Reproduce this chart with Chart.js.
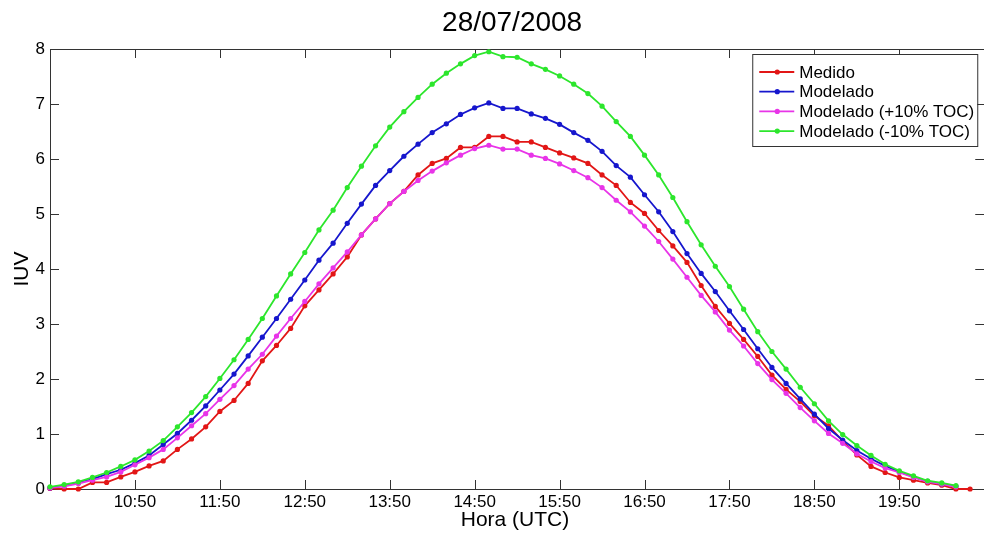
<!DOCTYPE html>
<html>
<head>
<meta charset="utf-8">
<script src="https://cdn.jsdelivr.net/npm/chart.js@4.4.1/dist/chart.umd.min.js"></script>
<style>
  html, body { margin: 0; padding: 0; background: #fff; overflow: hidden; }
</style>
</head>
<body>
<canvas id="myChart" width="984" height="534"></canvas>
<script>
// horas (UTC), cada 10 minutos
const horas = [
  "09:50","10:00","10:10","10:20","10:30","10:40",
  "10:50","11:00","11:10","11:20","11:30","11:40",
  "11:50","12:00","12:10","12:20","12:30","12:40",
  "12:50","13:00","13:10","13:20","13:30","13:40",
  "13:50","14:00","14:10","14:20","14:30","14:40",
  "14:50","15:00","15:10","15:20","15:30","15:40",
  "15:50","16:00","16:10","16:20","16:30","16:40",
  "16:50","17:00","17:10","17:20","17:30","17:40",
  "17:50","18:00","18:10","18:20","18:30","18:40",
  "18:50","19:00","19:10","19:20","19:30","19:40",
  "19:50","20:00","20:10","20:20","20:30","20:40"
];

const medido = [0.01,0.00,0.00,0.12,0.12,0.22, 0.31,0.42,0.51,0.72,0.91,1.13,
  1.41,1.61,1.92,2.33,2.61,2.92, 3.33,3.62,3.91,4.22,4.62,4.91,
  5.19,5.41,5.71,5.92,6.01,6.21, 6.21,6.41,6.41,6.31,6.31,6.21,
  6.11,6.02,5.92,5.71,5.52,5.21, 5.01,4.70,4.42,4.12,3.70,3.32,
  3.01,2.72,2.41,2.07,1.81,1.59, 1.33,1.15,0.87,0.62,0.41,0.30,
  0.21,0.16,0.11,0.07,0.00,0.00];

const modelado = [0.02,0.06,0.11,0.18,0.27,0.35, 0.47,0.61,0.81,1.01,1.25,1.51,
  1.80,2.09,2.42,2.76,3.10,3.45, 3.80,4.16,4.47,4.83,5.18,5.52,
  5.79,6.05,6.27,6.48,6.64,6.81, 6.93,7.02,6.92,6.92,6.82,6.74,
  6.63,6.48,6.34,6.14,5.88,5.67, 5.35,5.04,4.68,4.28,3.92,3.59,
  3.24,2.90,2.55,2.21,1.92,1.64, 1.36,1.10,0.89,0.70,0.55,0.42,
  0.31,0.22,0.14,0.09,0.05];

const modeladoMas = [0.02,0.05,0.10,0.16,0.22,0.31, 0.44,0.57,0.72,0.93,1.15,1.37,
  1.63,1.88,2.18,2.45,2.78,3.10, 3.41,3.73,4.02,4.31,4.62,4.91,
  5.19,5.41,5.61,5.78,5.93,6.07, 6.19,6.25,6.18,6.18,6.07,6.01,
  5.91,5.79,5.66,5.48,5.25,5.04, 4.78,4.50,4.18,3.85,3.52,3.22,
  2.89,2.60,2.28,1.99,1.74,1.48, 1.24,1.01,0.83,0.64,0.50,0.38,
  0.30,0.21,0.13,0.09,0.04];

const modeladoMenos = [0.04,0.08,0.13,0.21,0.30,0.41, 0.53,0.69,0.88,1.13,1.39,1.68,
  2.01,2.35,2.72,3.10,3.51,3.91, 4.30,4.71,5.07,5.48,5.87,6.24,
  6.58,6.86,7.12,7.36,7.56,7.73, 7.88,7.95,7.86,7.85,7.73,7.63,
  7.51,7.36,7.19,6.96,6.68,6.41, 6.07,5.71,5.30,4.86,4.44,4.05,
  3.68,3.27,2.86,2.50,2.18,1.85, 1.55,1.24,0.99,0.79,0.61,0.45,
  0.33,0.24,0.15,0.11,0.06];

const tickLabels = ["10:50","11:50","12:50","13:50","14:50","15:50","16:50","17:50","18:50","19:50"];
const yTicks = [0,1,2,3,4,5,6,7,8];

// the original axes end at 20:50, a few px past the cropped right edge;
// "vista" is the last visible minute
const inicio = "09:50", fin = "20:50", vista = 657;

function aMin(h) {
  const p = h.split(":");
  return (+p[0]) * 60 + (+p[1]);
}
const t0 = aMin(inicio);
const tickPos = tickLabels.map(h => aMin(h) - t0);

function serie(vals) {
  return vals.map((v, i) => ({x: aMin(horas[i]) - t0, y: v}));
}

const FONT = '"Liberation Sans", Arial, sans-serif';

function ds(label, vals, color, order) {
  return {
    label: label,
    data: serie(vals),
    borderColor: color,
    backgroundColor: color,
    borderWidth: 1.8,
    pointRadius: 2.6,
    pointBorderWidth: 0,
    pointBackgroundColor: color,
    tension: 0,
    clip: false,
    order: order
  };
}

// caja estilo matlab con ticks hacia adentro
const caja = {
  id: 'caja',
  beforeDatasetsDraw(chart) {
    const {ctx, chartArea: a, scales: {x, y}} = chart;
    const derecha = x.getPixelForValue(aMin(fin) - t0);
    ctx.save();
    ctx.strokeStyle = '#333';
    ctx.lineWidth = 1;
    ctx.strokeRect(a.left + 0.5, a.top + 0.5, derecha - a.left, a.bottom - a.top);
    ctx.beginPath();
    x.ticks.forEach(t => {
      const px = Math.round(x.getPixelForValue(t.value)) + 0.5;
      ctx.moveTo(px, a.bottom); ctx.lineTo(px, a.bottom - 9);
      ctx.moveTo(px, a.top); ctx.lineTo(px, a.top + 9);
    });
    y.ticks.forEach(t => {
      const py = Math.round(y.getPixelForValue(t.value)) + 0.5;
      ctx.moveTo(a.left, py); ctx.lineTo(a.left + 9, py);
      ctx.moveTo(derecha, py); ctx.lineTo(derecha - 9, py);
    });
    ctx.stroke();
    ctx.restore();
  },
  afterDraw(chart) {
    const {ctx, chartArea: a, scales: {x}} = chart;
    const derecha = x.getPixelForValue(aMin(fin) - t0);
    ctx.save();
    // titulo
    ctx.fillStyle = '#000';
    ctx.font = '28px ' + FONT;
    ctx.textAlign = 'center';
    ctx.textBaseline = 'middle';
    ctx.fillText('28/07/2008', (a.left + derecha) / 2 - 5, 23);

    // leyenda
    const bw = 225, bh = 92;
    const bx = derecha - 7 - bw, by = a.top + 5;
    ctx.fillStyle = '#fff';
    ctx.fillRect(bx, by, bw, bh);
    ctx.strokeStyle = '#333';
    ctx.lineWidth = 1;
    ctx.strokeRect(bx + 0.5, by + 0.5, bw, bh);
    ctx.font = '17px ' + FONT;
    ctx.textAlign = 'left';
    chart.data.datasets.forEach((d, i) => {
      const cy = by + 18 + i * 19.7;
      ctx.strokeStyle = d.borderColor;
      ctx.lineWidth = 1.8;
      ctx.beginPath();
      ctx.moveTo(bx + 7, cy); ctx.lineTo(bx + 42, cy);
      ctx.stroke();
      ctx.fillStyle = d.borderColor;
      ctx.beginPath();
      ctx.arc(bx + 25, cy, 2.6, 0, Math.PI * 2);
      ctx.fill();
      ctx.fillStyle = '#000';
      ctx.fillText(d.label, bx + 47, cy + 1);
    });
    ctx.restore();
  }
};

const ctx = document.getElementById('myChart');

new Chart(ctx, {
  type: 'line',
  data: {
    datasets: [
      ds('Medido', medido, 'rgb(226,22,22)', 3),
      ds('Modelado', modelado, 'rgb(22,22,205)', 2),
      ds('Modelado (+10% TOC)', modeladoMas, 'rgb(232,52,232)', 1),
      ds('Modelado (-10% TOC)', modeladoMenos, 'rgb(44,230,44)', 0)
    ]
  },
  options: {
    responsive: false,
    animation: false,
    events: [],
    layout: { padding: { top: 49, right: 0, left: 0, bottom: 0 } },
    plugins: {
      legend: { display: false },
      title: { display: false },
      tooltip: { enabled: false }
    },
    scales: {
      x: {
        type: 'linear',
        min: 0,
        max: vista,
        grid: { display: false, drawTicks: false },
        border: { display: false },
        afterBuildTicks: s => { s.ticks = tickPos.map(v => ({value: v})); },
        afterFit: s => { s.height = 45; },
        ticks: {
          autoSkip: false,
          maxRotation: 0,
          padding: 3,
          color: '#000',
          font: { family: FONT, size: 17 },
          callback: v => tickLabels[tickPos.indexOf(v)]
        },
        title: {
          display: true,
          text: 'Hora (UTC)',
          color: '#000',
          font: { family: FONT, size: 21 },
          padding: { top: 0, bottom: 1 }
        }
      },
      y: {
        min: 0,
        max: 8,
        grid: { display: false, drawTicks: false },
        border: { display: false },
        afterBuildTicks: s => { s.ticks = yTicks.map(v => ({value: v})); },
        afterFit: s => { s.width = 50; },
        ticks: {
          padding: 5,
          color: '#000',
          font: { family: FONT, size: 17 }
        },
        title: {
          display: true,
          text: 'IUV',
          color: '#000',
          font: { family: FONT, size: 21 },
          padding: { top: 10, bottom: 0 }
        }
      }
    }
  },
  plugins: [caja]
});
</script>
</body>
</html>
